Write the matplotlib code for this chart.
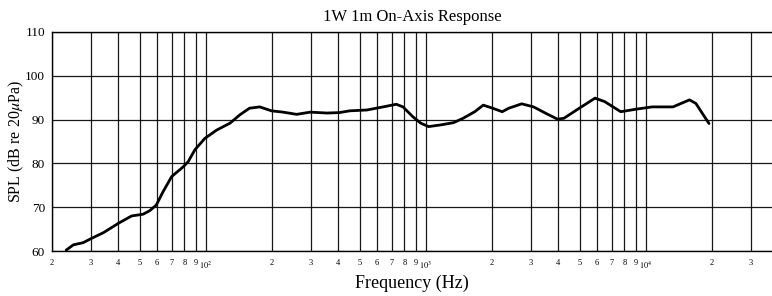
import numpy as np
import matplotlib

matplotlib.use('Agg')
import matplotlib.pyplot as plt

plt.rcParams['font.family'] = ['Liberation Serif', 'DejaVu Serif']
plt.rcParams['mathtext.fontset'] = 'stix'

# on-axis response
freq = [23.2, 25, 27.7, 30.3, 34.3, 40, 46, 51.9, 55.6, 59.6, 63.9, 70, 78.9, 83.2,
        89.2, 99, 112, 129, 143, 158, 176, 199, 225, 259, 298, 356, 405, 451, 541,
        640, 735, 788, 872, 948, 1030, 1174, 1338, 1478, 1670, 1826, 2015, 2226,
        2386, 2730, 3092, 3524, 3970, 4245, 4990, 5884, 6510, 7700, 9100, 10700,
        13300, 14500, 15800, 16900, 18100, 19400]
spl = [60.2, 61.4, 61.9, 62.9, 64.2, 66.3, 68.0, 68.4, 69.2, 70.5, 73.5, 77.0, 79.2,
       80.4, 83.1, 85.7, 87.6, 89.2, 91.1, 92.6, 92.9, 92.0, 91.7, 91.2, 91.7, 91.5,
       91.6, 92.0, 92.2, 92.9, 93.5, 92.9, 90.7, 89.2, 88.4, 88.8, 89.3, 90.3, 91.8,
       93.3, 92.6, 91.8, 92.6, 93.6, 92.9, 91.4, 90.1, 90.3, 92.6, 94.9, 94.1, 91.8,
       92.4, 92.9, 92.9, 93.7, 94.5, 93.7, 91.4, 89.1]

decades = [10, 100, 1000, 10000]
mults = [1, 2, 3, 4, 5, 6, 7, 8, 9]
decade_labels = ['', r'$10^2$', r'$10^3$', r'$10^4$']

ticks = []
labels = []
for d, dl in zip(decades, decade_labels):
    for m in mults:
        f = d * m
        if f < 20 or f > 35000:
            continue
        ticks.append(f)
        labels.append(dl if m == 1 else str(m))

fig = plt.figure(figsize=(7.72, 2.96), dpi=100)
ax = fig.add_axes([52 / 772, 1 - 251 / 296, 1 - 52 / 772, (251 - 32) / 296])

ax.set_xscale('log')
ax.set_xlim(20, 37500)
ax.set_ylim(60, 110)

ax.set_xticks(ticks)
ax.set_xticklabels(labels, fontsize=6)
ax.xaxis.set_minor_locator(matplotlib.ticker.NullLocator())
ax.set_yticks([60, 70, 80, 90, 100, 110])
ax.set_yticklabels(['60', '70', '80', '90', '100', '110'], fontsize=9.5)
ax.tick_params(axis='x', length=0, pad=6)
ax.tick_params(axis='y', length=0, pad=5)

ax.grid(True, which='major', color='black', linewidth=0.9, alpha=0.9)
for s in ['left', 'bottom', 'top']:
    ax.spines[s].set_linewidth(1.0)
ax.spines['right'].set_visible(False)

ax.plot(freq, spl, color='black', linewidth=2.0, solid_capstyle='round')

ax.set_title('1W 1m On-Axis Response', fontsize=12, pad=8)
ax.set_xlabel('Frequency (Hz)', fontsize=13, labelpad=3)
ax.set_ylabel(r'SPL (dB re 20$\mu$Pa)', fontsize=11.5)
ax.yaxis.set_label_coords(-0.036, 0.5)

fig.savefig('out.png', dpi=100)
